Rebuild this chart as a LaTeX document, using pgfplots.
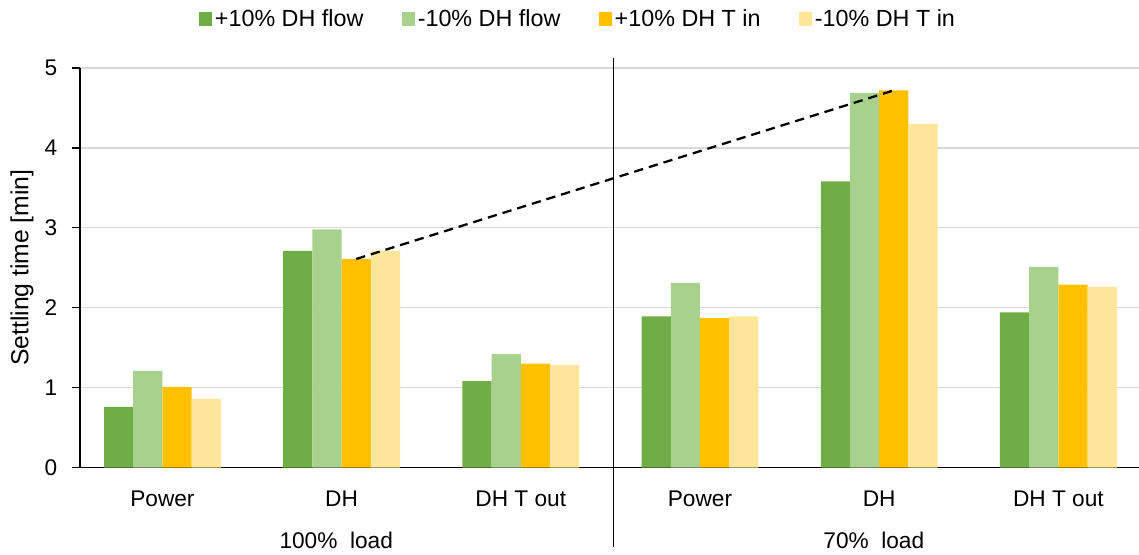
\documentclass[border=0pt]{standalone}
\usepackage{fontspec}
\setmainfont{Liberation Sans}
\usepackage{pgfplots}
\usepackage{pgfplotstable}
\pgfplotsset{compat=1.18}
\definecolor{cA}{HTML}{70AD47}
\definecolor{cB}{HTML}{A9D18E}
\definecolor{cC}{HTML}{FFC000}
\definecolor{cD}{HTML}{FFE699}
\definecolor{gridc}{HTML}{D9D9D9}
\pgfplotstableread{
x pf mf pt mt
0 0.76 1.21 1.01 0.86
1 2.71 2.98 2.61 2.71
2 1.08 1.42 1.30 1.28
3 1.89 2.31 1.87 1.89
4 3.58 4.69 4.72 4.30
5 1.94 2.51 2.29 2.26
}\data
\begin{document}
\begin{tikzpicture}[font=\fontsize{17}{20}\selectfont]
\path[use as bounding box] (0,0) rectangle (854.25pt,415.5pt);
\begin{axis}[
 at={(60pt,64.875pt)}, anchor=south west,
 width=794.25pt, height=299.625pt, scale only axis,
 xmin=-0.46, xmax=5.45, ymin=0, ymax=5,
 axis x line*=bottom, axis y line*=left,
 axis line style={line width=1pt, -},
 xtick={0,...,5}, xticklabels={Power,DH,DH T out,Power,DH,DH T out},
 xtick style={draw=none},
 ytick={0,1,2,3,4,5},
 ymajorgrids, major grid style={gridc, line width=1pt},
 tick align=outside, major tick length=6pt,
 ytick style={line width=1pt, black},
 /pgf/number format/assume math mode=true,
 xticklabel style={anchor=base, yshift=-23pt},
 yticklabel style={xshift=-7.5pt},
 ylabel={Settling time [min]},
 ylabel style={at={(rel axis cs:-0.0548,0.5)}, anchor=center, font=\fontsize{18.5}{21}\selectfont},
 clip=false,
 legend columns=4,
 legend style={draw=none, fill=none, at={(0.1124,1.1227)}, anchor=west, inner sep=0pt,
   font=\fontsize{17.5}{20}\selectfont,
   /tikz/every even column/.append style={column sep=27pt}},
 legend image code/.code={\fill[#1,draw=none] (0pt,-4.9pt) rectangle (9.75pt,4.9pt);},
]
\addplot[ybar, bar width=0.163, bar shift=-0.2445, fill=cA, draw=none] table[x=x,y=pf]{\data};
\addlegendentry{+10\% DH flow}
\addplot[ybar, bar width=0.163, bar shift=-0.0815, fill=cB, draw=none] table[x=x,y=mf]{\data};
\addlegendentry{-10\% DH flow}
\addplot[ybar, bar width=0.163, bar shift=0.0815, fill=cC, draw=none] table[x=x,y=pt]{\data};
\addlegendentry{+10\% DH T in}
\addplot[ybar, bar width=0.163, bar shift=0.2445, fill=cD, draw=none] table[x=x,y=mt]{\data};
\addlegendentry{-10\% DH T in}
\addplot[sharp plot, black, line width=1.7pt, dash pattern=on 7pt off 4.5pt, forget plot] coordinates {(1.0815,2.61) (4.0815,4.72)};
\draw[black, line width=1pt] (axis cs:2.517,5.13) -- (axis cs:2.517,-0.995);
\node[anchor=base, yshift=-60.4pt] at (axis cs:0.97,0) {100\%\ \ load};
\node[anchor=base, yshift=-60.4pt] at (axis cs:3.97,0) {70\%\ \ load};
\end{axis}
\end{tikzpicture}
\end{document}
